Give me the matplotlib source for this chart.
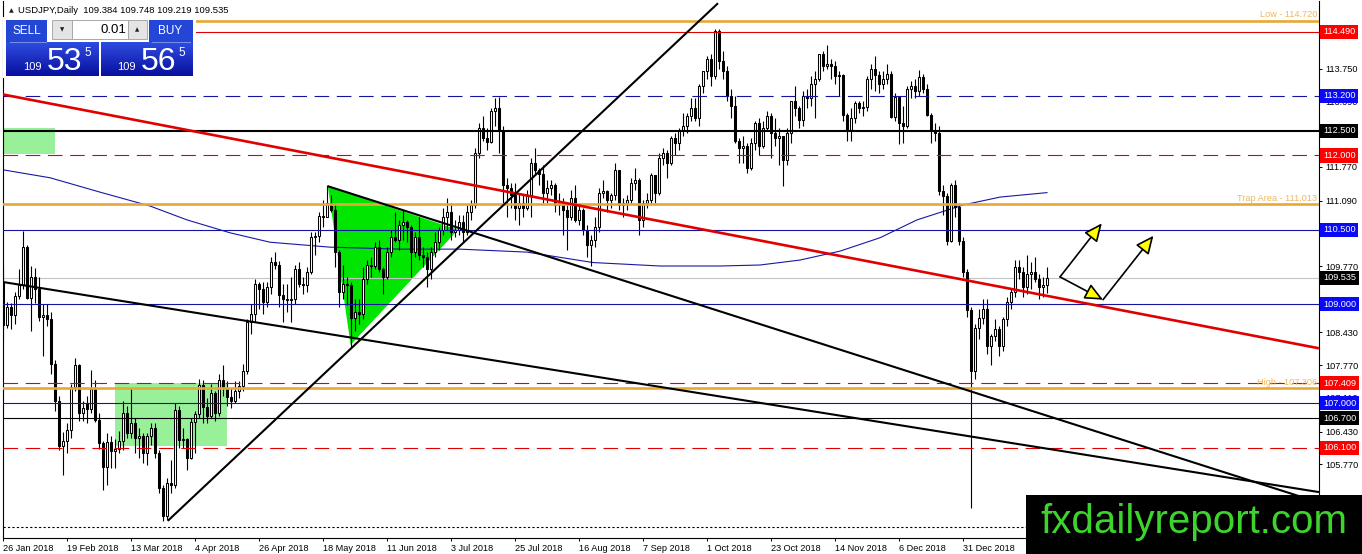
import numpy as np
import pandas as pd
import matplotlib
matplotlib.use("Agg")
import matplotlib.pyplot as plt
from matplotlib.patches import Rectangle, Polygon

plt.rcParams['font.family'] = ['Liberation Sans', 'DejaVu Sans']
plt.rcParams['lines.scale_dashes'] = False

# Daily USDJPY candles, 26 Jan 2018 .. 30 Jan 2019
opens = [
    109.45, 108.58, 108.95, 108.78, 109.17, 109.38, 110.16, 109.13, 109.55, 109.30,
    108.75, 108.78, 108.70, 107.80, 107.05, 106.13, 106.25, 106.46, 107.33, 107.78,
    106.80, 107.00, 106.88, 107.28, 106.67, 106.20, 105.72, 106.22, 106.03, 106.08,
    106.25, 106.80, 106.40, 106.60, 106.30, 106.35, 106.00, 106.35, 106.50, 106.00,
    105.30, 104.72, 105.40, 105.35, 106.86, 106.27, 106.28, 105.90, 106.62, 106.78,
    107.37, 106.93, 106.75, 107.20, 106.80, 107.48, 107.30, 107.12, 107.05, 107.25,
    107.35, 107.65, 108.65, 108.80, 109.40, 109.30, 109.05, 109.35, 109.85, 109.80,
    109.18, 109.10, 109.08, 109.10, 109.70, 109.40, 109.38, 109.65, 110.35, 110.38,
    110.78, 110.76, 111.05, 110.90, 110.05, 109.25, 109.40, 109.38, 108.72, 108.85,
    108.80, 109.50, 109.80, 109.78, 110.15, 109.70, 109.55, 110.05, 110.35, 110.30,
    110.60, 110.65, 110.55, 110.05, 110.35, 110.00, 109.95, 109.70, 110.05, 110.25,
    110.50, 110.75, 110.85, 110.45, 110.50, 110.65, 110.45, 110.85, 111.00, 112.05,
    112.55, 112.35, 112.28, 112.90, 112.95, 112.50, 111.40, 111.35, 111.20, 110.95,
    111.05, 110.95, 111.20, 111.85, 111.70, 111.62, 111.25, 111.35, 111.40, 111.00,
    111.05, 110.90, 110.75, 111.15, 110.70, 110.90, 110.50, 110.20, 110.30, 110.55,
    111.25, 111.28, 111.10, 111.20, 111.70, 111.00, 111.05, 111.10, 111.45, 111.50,
    110.70, 111.05, 111.10, 111.60, 111.25, 111.95, 112.05, 111.85, 112.35, 112.25,
    112.50, 112.60, 112.80, 112.95, 112.75, 113.40, 113.70, 113.95, 113.60, 114.50,
    113.90, 113.70, 113.20, 113.00, 112.30, 112.15, 112.20, 111.75, 112.25, 112.65,
    112.20, 112.55, 112.80, 112.45, 112.35, 112.40, 111.90, 112.45, 113.10, 112.95,
    112.72, 113.20, 113.15, 113.45, 113.55, 114.05, 113.80, 113.85, 113.80, 113.60,
    113.62, 112.82, 112.52, 112.75, 113.05, 112.95, 112.98, 113.55, 113.75, 113.62,
    113.45, 113.55, 113.65, 112.78, 113.18, 112.65, 112.60, 113.35, 113.40, 113.30,
    113.58, 113.35, 112.82, 112.52, 112.45, 111.28, 111.18, 110.28, 111.40, 110.96,
    110.27, 109.65, 108.88, 107.65, 108.52, 108.72, 108.90, 108.15, 108.35, 108.50,
    108.15, 108.70, 109.05, 109.25, 109.75, 109.65, 109.35, 109.60, 109.65, 109.50,
    109.35, 109.384]
highs = [
    109.78, 109.04, 109.03, 109.25, 109.70, 110.48, 110.20, 109.78, 109.73, 109.55,
    109.00, 109.00, 108.85, 107.88, 107.15, 106.42, 106.60, 107.40, 107.92, 107.80,
    107.05, 107.15, 107.68, 107.48, 106.80, 106.25, 106.40, 106.35, 106.28, 106.45,
    107.05, 106.95, 107.30, 106.70, 106.50, 106.40, 106.40, 106.60, 106.60, 106.05,
    105.35, 105.50, 105.85, 107.00, 106.95, 106.50, 106.30, 106.70, 106.85, 107.50,
    107.48, 107.10, 107.40, 107.25, 107.60, 107.78, 107.45, 107.30, 107.45, 107.45,
    107.80, 108.70, 109.00, 109.50, 109.45, 109.45, 109.45, 109.95, 110.05, 109.88,
    109.40, 109.40, 109.55, 109.80, 109.85, 109.55, 109.75, 110.45, 110.45, 110.85,
    111.10, 111.40, 111.20, 111.05, 110.10, 109.80, 109.55, 109.45, 109.10, 109.10,
    109.75, 109.90, 109.95, 110.25, 110.30, 109.75, 110.15, 110.50, 110.85, 110.70,
    110.90, 110.70, 110.60, 110.45, 110.75, 110.15, 110.05, 110.15, 110.45, 110.55,
    110.95, 111.15, 111.05, 110.70, 110.80, 110.80, 111.00, 111.10, 112.15, 112.65,
    112.80, 112.55, 112.95, 113.15, 113.17, 112.60, 111.55, 111.45, 111.45, 111.25,
    111.20, 111.30, 111.95, 112.15, 111.75, 111.80, 111.50, 111.50, 111.45, 111.25,
    111.15, 111.05, 111.30, 111.40, 111.05, 110.95, 110.60, 110.40, 110.75, 111.35,
    111.50, 111.30, 111.25, 111.85, 111.70, 111.15, 111.20, 111.55, 111.75, 111.55,
    111.10, 111.25, 111.65, 111.60, 112.05, 112.15, 112.10, 112.40, 112.45, 112.55,
    112.85, 112.85, 113.15, 113.15, 113.45, 113.70, 114.00, 114.05, 114.55, 114.55,
    114.10, 113.80, 113.35, 113.20, 112.35, 112.40, 112.25, 112.35, 112.70, 112.75,
    112.70, 112.90, 112.85, 112.75, 112.55, 112.40, 112.55, 113.10, 113.40, 113.00,
    113.30, 113.35, 113.60, 113.70, 114.05, 114.10, 114.23, 113.95, 113.90, 113.70,
    113.65, 112.85, 112.95, 113.10, 113.10, 113.10, 113.60, 113.85, 114.00, 113.70,
    113.70, 113.85, 113.70, 113.25, 113.20, 113.00, 113.40, 113.50, 113.55, 113.72,
    113.65, 113.45, 112.85, 112.65, 112.60, 111.40, 111.25, 111.45, 111.50, 111.05,
    110.35, 109.70, 108.95, 108.60, 108.90, 109.10, 109.10, 108.40, 108.70, 108.55,
    108.75, 109.15, 109.30, 109.90, 109.90, 109.75, 110.00, 109.85, 109.95, 109.60,
    109.55, 109.748]
lows = [
    108.28, 108.52, 108.50, 108.60, 109.10, 109.30, 109.10, 108.46, 109.02, 108.66,
    107.95, 108.55, 107.60, 106.84, 106.05, 105.55, 106.00, 106.30, 107.25, 106.65,
    106.65, 106.60, 106.80, 106.62, 106.08, 105.25, 105.35, 105.70, 105.70, 106.00,
    106.05, 106.30, 106.30, 106.00, 105.90, 105.80, 105.75, 106.15, 105.90, 105.20,
    104.63, 104.65, 105.20, 105.30, 106.10, 106.10, 105.65, 105.88, 105.99, 106.70,
    106.60, 106.60, 106.70, 106.65, 106.75, 107.15, 106.95, 106.90, 107.00, 107.10,
    107.25, 107.60, 108.40, 108.65, 108.90, 108.80, 108.95, 109.20, 109.70, 108.95,
    108.65, 108.85, 108.65, 109.00, 109.35, 109.20, 109.25, 109.60, 110.00, 110.25,
    110.55, 110.75, 110.85, 109.75, 108.95, 109.10, 108.98, 108.11, 108.45, 108.60,
    108.70, 109.40, 109.55, 109.70, 109.65, 109.20, 109.50, 109.95, 110.25, 110.10,
    110.30, 110.25, 109.55, 109.95, 109.90, 109.75, 109.35, 109.50, 109.95, 110.10,
    110.40, 110.50, 110.30, 110.35, 110.40, 110.25, 110.40, 110.70, 110.95, 111.95,
    112.30, 112.10, 112.25, 112.60, 112.05, 111.05, 110.75, 110.95, 110.70, 110.60,
    110.75, 110.90, 110.75, 111.60, 111.40, 111.05, 111.05, 111.20, 110.85, 110.80,
    110.40, 110.10, 110.70, 110.65, 110.60, 110.40, 109.95, 109.77, 110.15, 110.45,
    111.15, 110.85, 110.95, 111.10, 110.90, 110.75, 110.90, 111.05, 111.30, 110.40,
    110.55, 110.95, 111.05, 111.05, 111.20, 111.80, 111.55, 111.80, 112.00, 112.10,
    112.40, 112.45, 112.70, 112.70, 112.60, 113.25, 113.55, 113.40, 113.55, 113.75,
    113.55, 113.10, 112.75, 112.25, 111.85, 111.85, 111.65, 111.70, 112.10, 112.00,
    112.15, 112.50, 111.95, 112.20, 111.80, 111.38, 111.80, 112.25, 112.80, 112.55,
    112.60, 112.95, 113.00, 112.75, 113.50, 113.70, 113.75, 113.55, 113.45, 113.20,
    112.70, 112.30, 112.30, 112.65, 112.85, 112.80, 112.90, 113.35, 113.30, 113.25,
    113.35, 113.45, 112.75, 112.70, 112.23, 112.25, 112.55, 113.15, 113.15, 113.20,
    113.25, 112.80, 112.25, 112.30, 111.20, 110.80, 110.20, 110.25, 110.75, 110.20,
    109.55, 108.75, 104.89, 107.50, 108.30, 108.60, 108.00, 107.77, 108.25, 107.95,
    108.05, 108.55, 108.90, 109.15, 109.50, 109.15, 109.20, 109.30, 109.45, 109.10,
    109.15, 109.219]
closes = [
    108.58, 108.95, 108.78, 109.17, 109.38, 110.16, 109.13, 109.55, 109.30, 108.75,
    108.78, 108.70, 107.80, 107.05, 106.13, 106.25, 106.46, 107.33, 107.78, 106.80,
    106.90, 106.88, 107.28, 106.67, 106.20, 105.72, 106.22, 106.03, 106.08, 106.25,
    106.80, 106.40, 106.60, 106.30, 106.35, 106.00, 106.35, 106.50, 106.00, 105.30,
    104.72, 105.40, 105.35, 106.86, 106.27, 106.28, 105.90, 106.62, 106.78, 107.37,
    106.93, 106.75, 107.20, 106.80, 107.48, 107.30, 107.12, 107.05, 107.25, 107.35,
    107.65, 108.65, 108.80, 109.40, 109.30, 109.05, 109.35, 109.85, 109.80, 109.18,
    109.10, 109.08, 109.10, 109.70, 109.40, 109.38, 109.65, 110.35, 110.38, 110.78,
    110.76, 111.05, 110.90, 110.05, 109.25, 109.40, 109.38, 108.72, 108.85, 108.80,
    109.50, 109.80, 109.78, 110.15, 109.70, 109.55, 110.05, 110.35, 110.30, 110.60,
    110.65, 110.55, 110.05, 110.35, 110.00, 109.95, 109.70, 110.05, 110.25, 110.50,
    110.75, 110.85, 110.45, 110.50, 110.65, 110.45, 110.85, 111.00, 112.05, 112.55,
    112.35, 112.28, 112.90, 112.95, 112.50, 111.40, 111.35, 111.20, 110.95, 111.05,
    110.95, 111.20, 111.85, 111.70, 111.62, 111.25, 111.35, 111.40, 111.00, 111.05,
    110.90, 110.75, 111.15, 110.70, 110.90, 110.50, 110.20, 110.30, 110.55, 111.25,
    111.28, 111.10, 111.20, 111.70, 111.00, 111.05, 111.10, 111.45, 111.50, 110.70,
    111.05, 111.10, 111.60, 111.25, 111.95, 112.05, 111.85, 112.35, 112.25, 112.50,
    112.60, 112.80, 112.95, 112.75, 113.40, 113.70, 113.95, 113.60, 114.50, 113.90,
    113.70, 113.20, 113.00, 112.30, 112.15, 112.20, 111.75, 112.25, 112.65, 112.20,
    112.55, 112.80, 112.45, 112.35, 112.40, 111.90, 112.45, 113.10, 112.95, 112.72,
    113.20, 113.15, 113.45, 113.55, 114.05, 113.80, 113.85, 113.80, 113.60, 113.62,
    112.82, 112.52, 112.75, 113.05, 112.95, 112.98, 113.55, 113.75, 113.62, 113.45,
    113.55, 113.65, 112.78, 113.18, 112.65, 112.60, 113.35, 113.40, 113.30, 113.58,
    113.35, 112.82, 112.52, 112.45, 111.28, 111.18, 110.28, 111.40, 110.96, 110.27,
    109.65, 108.88, 107.65, 108.52, 108.72, 108.90, 108.15, 108.35, 108.50, 108.15,
    108.70, 109.05, 109.25, 109.75, 109.65, 109.35, 109.60, 109.65, 109.50, 109.35,
    109.38, 109.535]

# trading calendar (no bars on 25 Dec and 1 Jan)
dates = pd.bdate_range('2018-01-26', '2019-01-30')
dates = dates[~dates.isin(pd.to_datetime(['2018-12-25', '2019-01-01']))]
label_dates = ['2018-01-26', '2018-02-19', '2018-03-13', '2018-04-04', '2018-04-26',
               '2018-05-18', '2018-06-11', '2018-07-03', '2018-07-25', '2018-08-16',
               '2018-09-07', '2018-10-01', '2018-10-23', '2018-11-14', '2018-12-06',
               '2018-12-31']

# moving average, sampled from the chart (bar number, price)
ma_bars = [0, 11.75, 24.25, 36.75, 46, 56.75, 66.75, 81.75, 99.25, 114.25, 131,
           147.5, 164.25, 179.25, 189.25, 199.25, 209.25, 219.25, 228.5, 240, 249.25, 261]
ma_vals = [111.71, 111.55, 111.26, 110.98, 110.70, 110.44, 110.25, 110.15, 110.11, 110.11, 110.05,
           109.84, 109.77, 109.77, 109.79, 109.89, 110.07, 110.34, 110.70, 111.00, 111.16, 111.25]

# horizontal levels
levels = [114.49, 113.2, 112.5, 112.0, 110.5, 109.0, 107.409, 107.0, 106.7, 106.1]
zone_levels = [114.72, 111.013, 107.306]
zone_names = ['Low', 'Trap Area', 'High']
last_price = 109.535
bottom_level = 104.5
ytick_vals = [114.41, 113.75, 113.09, 112.43, 111.77, 111.09, 110.43, 109.77,
              109.09, 108.43, 107.77, 107.11, 106.43, 105.77, 105.11, 104.45]

# trend lines (bar, price)
red_trend = ([-1, 329], [113.245, 108.11])
rising_line = ([41.2, 178.75], [104.63, 115.07])
upper_falling = ([81.2, 329], [111.38, 105.0])
lower_falling = ([-1, 329], [109.46, 105.21])

# shapes
triangle_bars = [81.2, 86.9, 113.75]
triangle_prices = [111.38, 108.18, 110.50]
zone_boxes = [(28, 56, 106.14, 107.41), (-1, 13, 112.03, 112.55)]
arrows = [((264.25, 109.55), (275.0, 109.09)),
          ((264.25, 109.55), (274.7, 110.63)),
          ((275.0, 109.09), (287.6, 110.38))]

header = 'USDJPY,Daily  109.384 109.748 109.219 109.535'
logo = 'fxdailyreport.com'

W, H = 1362, 554
fig = plt.figure(figsize=(W / 100, H / 100), dpi=100)
fig.patch.set_facecolor('white')
ax = fig.add_axes([3 / W, 16 / H, 1316 / W, 537 / H])
ax.set_xlim(0, 329)
ax.set_ylim(104.284, 115.115)

# background shapes
for b0, b1, p0, p1 in zone_boxes:
    ax.add_patch(Rectangle((b0, p0), b1 - b0, p1 - p0, fc='#98F098', ec='none', zorder=1))
ax.add_patch(Polygon(list(zip(triangle_bars, triangle_prices)), closed=True,
                     fc='#00E600', ec='none', zorder=1))

ax.plot(ma_bars, ma_vals, color='#1818A8', lw=0.8, zorder=2)

# candles
n = min(len(opens), len(highs), len(lows), len(closes), len(dates))
xb = np.arange(n)
o = np.array(opens[:n])
hi = np.array(highs[:n])
lo = np.array(lows[:n])
c = np.array(closes[:n])
up = c >= o
ax.vlines(xb, lo, hi, color='black', lw=0.8, zorder=3)
ax.bar(xb[up], (c - o)[up], bottom=o[up], width=0.6, color='white',
       edgecolor='black', linewidth=0.75, zorder=3.1)
ax.bar(xb[~up], (o - c)[~up], bottom=c[~up], width=0.6, color='black',
       edgecolor='black', linewidth=0.75, zorder=3.1)

# horizontal lines
red, blue, dark = '#E00000', '#1414A0', 'black'
dash = (10.5, 5.5)
line_style = {
    114.49: dict(color=red, lw=0.8),
    113.2: dict(color=blue, lw=0.8, dashes=dash),
    112.5: dict(color=dark, lw=1.5),
    112.0: dict(color=red, lw=0.8, dashes=dash),
    110.5: dict(color=blue, lw=0.8),
    109.0: dict(color=blue, lw=0.8),
    107.409: dict(color=red, lw=0.8, dashes=dash),
    107.0: dict(color=blue, lw=0.8),
    106.7: dict(color=dark, lw=0.8),
    106.1: dict(color=red, lw=0.8, dashes=dash),
}
box_color = {114.49: '#FF0000', 113.2: '#0A0AF5', 112.5: 'black', 112.0: '#FF0000',
             110.5: '#0A0AF5', 109.0: '#0A0AF5', 107.409: '#FF0000', 107.0: '#0A0AF5',
             106.7: 'black', 106.1: '#FF0000'}
for lv in levels:
    ax.axhline(lv, zorder=4, **line_style[lv])
ax.axhline(last_price, color='#C4C4C4', lw=0.8, zorder=2.5)
ax.axhline(bottom_level, color='black', lw=0.8, dashes=(1.6, 1.6), zorder=4)

orange = '#E8A838'
for lv, name in zip(zone_levels, zone_names):
    ax.axhline(lv, color=orange, lw=1.9, zorder=4)
    ax.text(328.6, lv + 0.03, f'{name} - {lv:.3f}', ha='right', va='bottom',
            fontsize=6.6, color='#F0B85C', zorder=5)

# trend lines
ax.plot(*red_trend, color='#E00000', lw=1.9, zorder=4.5, solid_capstyle='butt')
for tl in (rising_line, upper_falling, lower_falling):
    ax.plot(*tl, color='black', lw=1.5, zorder=4.5, solid_capstyle='butt')

for (x0, y0), (x1, y1) in arrows:
    ax.annotate('', xy=(x1, y1), xytext=(x0, y0), zorder=6,
                arrowprops=dict(arrowstyle='-|>,head_length=0.55,head_width=0.25',
                                fc='#FFFF00', ec='black', lw=1.2, mutation_scale=20,
                                shrinkA=0, shrinkB=0))

# axes
ax.spines['top'].set_visible(False)
for s in ('left', 'right', 'bottom'):
    ax.spines[s].set_color('black')
    ax.spines[s].set_linewidth(0.8)
ax.yaxis.tick_right()
ax.set_yticks(ytick_vals)
ax.set_yticklabels([f'{v:.3f}' for v in ytick_vals])
ax.tick_params(axis='y', direction='out', length=2.5, width=0.7, pad=2,
               labelsize=6.6, colors='black')
tick_pos = [int(np.where(dates[:n] == pd.Timestamp(d))[0][0]) for d in label_dates]
ax.set_xticks(tick_pos)
ax.set_xticklabels([f'{pd.Timestamp(d).day} {pd.Timestamp(d):%b %Y}' for d in label_dates])
ax.tick_params(axis='x', direction='out', length=2.5, width=0.7, pad=1.5, labelsize=6.6)
for t in ax.get_xticklabels():
    t.set_ha('left')

# price boxes on the scale (they sit over the scale labels, as in the terminal)
for lv in levels + [last_price]:
    col = 'black' if lv == last_price else box_color[lv]
    ax.text(1 + 4 / 1316, lv, f'{lv:.3f}', transform=ax.get_yaxis_transform(),
            ha='left', va='center', fontsize=6.6, color='white', zorder=10,
            clip_on=False, bbox=dict(boxstyle='square,pad=0.28', fc=col, ec='none'))

# overlay for trading panel, header and logo (pixel coordinates)
ov = fig.add_axes([0, 0, 1, 1], zorder=5)
ov.axis('off')

ov.add_patch(Rectangle((3, 17), 193, 61, fc='white', ec='none'))
grad = np.linspace([0.18, 0.30, 0.88], [0.03, 0.06, 0.62], 40).reshape(40, 1, 3)
for x0, x1 in ((6, 99), (101, 193)):
    ov.imshow(grad, extent=(x0, x1, 76, 42), aspect='auto', origin='upper', zorder=2)
ov.add_patch(Rectangle((6, 20), 41, 22, fc='#2446D6', ec='none', zorder=2))
ov.add_patch(Rectangle((149, 20), 44, 22, fc='#2446D6', ec='none', zorder=2))
ov.plot([10, 46], [41.5, 41.5], color='#7A90EA', lw=0.7, zorder=3)
ov.plot([152, 190], [41.5, 41.5], color='#7A90EA', lw=0.7, zorder=3)
ov.add_patch(Rectangle((52, 20), 20, 19, fc='#E4E4E4', ec='#A8A8A8', lw=0.7, zorder=2))
ov.add_patch(Rectangle((72, 20), 56, 19, fc='white', ec='#A8A8A8', lw=0.7, zorder=2))
ov.add_patch(Rectangle((128, 20), 19, 19, fc='#E4E4E4', ec='#A8A8A8', lw=0.7, zorder=2))
ov.text(62, 30, '▼', fontsize=4, ha='center', va='center', color='#202020', zorder=4,
        family=['DejaVu Sans'])
ov.text(137.5, 30, '▲', fontsize=4, ha='center', va='center', color='#202020', zorder=4,
        family=['DejaVu Sans'])
ov.text(126, 30, '0.01', fontsize=9.5, ha='right', va='center', color='black', zorder=4)
ov.text(26.5, 31.5, 'SELL', fontsize=8.5, ha='center', va='center', color='white', zorder=4)
ov.text(170.5, 31.5, 'BUY', fontsize=8.5, ha='center', va='center', color='white', zorder=4)
for xs, big in ((23, '53'), (117, '56')):
    ov.text(xs, 70, '109', fontsize=8, ha='left', va='baseline', color='white', zorder=4)
    ov.text(xs + 24, 70, big, fontsize=23, ha='left', va='baseline', color='white', zorder=4)
    ov.text(xs + 61, 56, '5', fontsize=8.5, ha='left', va='baseline', color='white', zorder=4)

ov.text(11, 10.5, '▲', fontsize=4.5, ha='center', va='center', color='#202020',
        family=['DejaVu Sans'])
ov.text(18, 10.5, header, fontsize=6.8, ha='left', va='center', color='black')

ov.add_patch(Rectangle((1026, 495), 336, 59, fc='black', ec='none', zorder=6))
ov.text(1194, 522, logo, fontsize=29, ha='center', va='center', color='#3ED42E', zorder=7)

ov.set_xlim(0, W)
ov.set_ylim(H, 0)

fig.savefig('out.png', dpi=100)
